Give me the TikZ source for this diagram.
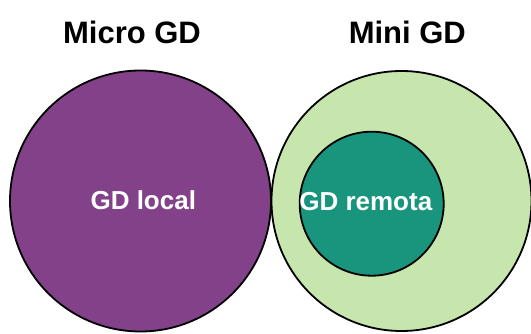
\documentclass[tikz,border=0pt]{standalone}
\usepackage{fontspec}
\setmainfont{Liberation Sans}
\definecolor{microfill}{HTML}{83418A}
\definecolor{minifill}{HTML}{C6E6AE}
\definecolor{remotefill}{HTML}{1A957D}
\tikzset{
  disc/.style={circle, draw=black, line width=1.8pt, inner sep=0pt},
  heading/.style={anchor=base, font=\bfseries\fontsize{31}{31}\selectfont, text=black, inner sep=0pt},
  inlabel/.style={anchor=base, font=\bfseries\fontsize{26}{26}\selectfont, text=white, inner sep=0pt}
}
\begin{document}
\begin{tikzpicture}[x=1pt,y=1pt]
  \useasboundingbox (0,0) rectangle (531,-334);
  % the three sets
  \node[disc, fill=microfill, minimum size=261pt] (micro) at (140.5,-201) {};
  \node[disc, fill=minifill, minimum size=260pt] (mini) at (401.5,-201) {};
  \node[disc, fill=remotefill, minimum size=144pt] (remote) at (371.7,-203.7) {};
  % headings above the sets
  \node[heading] (microtitle) at (132,-43.3) {Micro GD};
  \node[heading] (minititle) at (407.3,-43.3) {Mini GD};
  % labels inside the sets
  \node[inlabel] (locallabel) at (143.3,-209.6) {GD local};
  \node[inlabel] (remotelabel) at (365.8,-210.3) {GD remota};
\end{tikzpicture}
\end{document}
